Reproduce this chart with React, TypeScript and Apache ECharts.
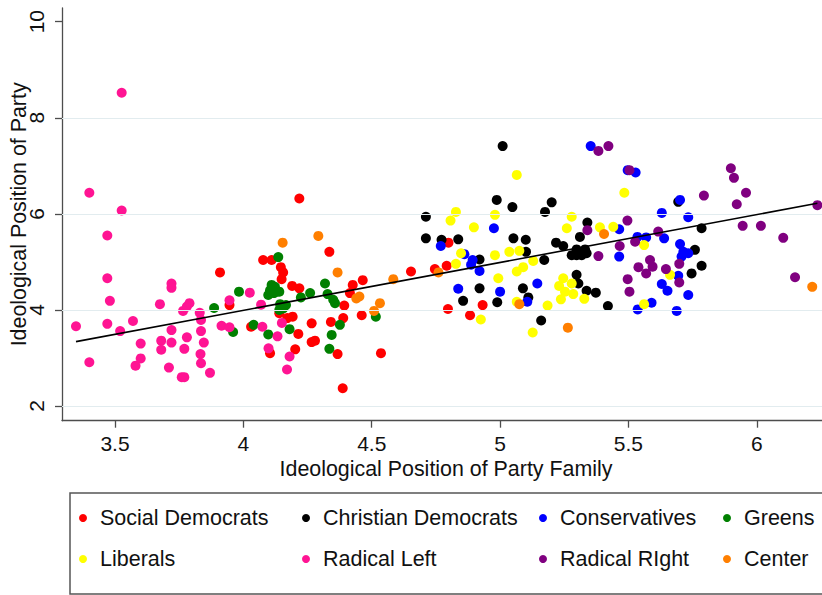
import React, { useEffect, useRef } from "react";
import * as echarts from "echarts";

// ---- Data ----
const SOCIAL_DEMOCRATS: number[][] = [
  [3.909, 4.78], [3.946, 4.10], [4.03, 3.65], [4.077, 5.04], [4.11, 5.04], [4.146, 4.89],
  [4.155, 4.78], [4.149, 4.64], [4.19, 4.50], [4.218, 4.45], [4.104, 3.10], [4.202, 3.18],
  [4.214, 3.50], [4.218, 6.32], [4.335, 5.21], [4.426, 4.52], [4.465, 4.62], [4.415, 4.35],
  [4.393, 4.09], [4.461, 3.89], [4.389, 3.83], [4.341, 3.75], [4.266, 3.72], [4.192, 3.86],
  [4.171, 3.83], [4.279, 3.36], [4.266, 3.33], [4.367, 3.08], [4.536, 3.10], [4.387, 2.37],
  [4.14, 3.93], [4.653, 4.80], [4.746, 4.85], [4.792, 4.92], [4.797, 4.02], [4.799, 5.40],
  [4.883, 3.89], [4.932, 4.10],
];
const CHRISTIAN_DEMOCRATS: number[][] = [
  [5.01, 7.41], [4.987, 6.29], [5.048, 6.14], [5.175, 6.04], [5.201, 6.24], [4.711, 5.94],
  [4.711, 5.49], [4.772, 5.46], [4.837, 5.47], [5.052, 5.49], [5.10, 5.46], [5.101, 5.21],
  [4.92, 5.05], [5.172, 5.04], [5.218, 5.40], [5.246, 5.33], [5.311, 5.52], [5.34, 5.82],
  [5.279, 5.14], [5.298, 5.14], [5.318, 5.14], [5.337, 5.18], [5.298, 5.26], [5.331, 5.26],
  [5.298, 4.73], [5.305, 4.55], [5.337, 4.40], [5.373, 4.36], [5.42, 4.08], [4.92, 4.45],
  [4.856, 4.19], [4.989, 4.16], [5.089, 4.45], [5.11, 4.26], [5.16, 3.78], [5.694, 6.25],
  [5.785, 5.70], [5.759, 5.25], [5.785, 4.92], [5.746, 4.76],
];
const CONSERVATIVES: number[][] = [
  [5.353, 7.41], [4.976, 5.70], [4.769, 5.33], [4.861, 5.16], [4.893, 5.04], [4.887, 4.94],
  [4.92, 4.81], [4.837, 4.44], [5.0, 4.38], [5.145, 4.55], [5.106, 4.17], [5.464, 5.68],
  [5.464, 5.11], [5.497, 6.91], [5.528, 6.86], [5.701, 6.29], [5.63, 6.02], [5.733, 5.93],
  [5.535, 5.52], [5.569, 5.51], [5.639, 5.49], [5.701, 5.37], [5.714, 5.21], [5.733, 5.18],
  [5.707, 5.11], [5.694, 4.71], [5.63, 4.54], [5.652, 4.40], [5.733, 4.31], [5.59, 4.15],
  [5.536, 4.01], [5.688, 3.98],
];
const GREENS: number[][] = [
  [3.886, 4.04], [3.983, 4.38], [3.96, 3.54], [4.04, 3.69], [4.097, 3.49], [4.136, 5.10],
  [4.11, 4.52], [4.123, 4.48], [4.104, 4.41], [4.13, 4.38], [4.097, 4.31], [4.119, 4.35],
  [4.14, 4.38], [4.14, 4.00], [4.155, 4.03], [4.18, 3.60], [4.143, 4.12], [4.166, 4.10],
  [4.224, 4.26], [4.26, 4.35], [4.318, 4.55], [4.328, 4.33], [4.35, 4.21], [4.357, 4.14],
  [4.376, 3.69], [4.344, 3.48], [4.335, 3.19], [4.516, 3.86],
];
const LIBERALS: number[][] = [
  [5.065, 6.81], [4.828, 6.04], [4.807, 5.86], [4.898, 5.72], [4.98, 5.98], [5.279, 5.94],
  [5.26, 5.70], [5.389, 5.72], [5.441, 5.73], [4.848, 5.18], [4.828, 4.96], [4.98, 5.14],
  [5.036, 5.21], [5.075, 5.23], [5.129, 5.02], [5.09, 4.89], [5.065, 4.80], [4.993, 4.66],
  [5.246, 4.66], [5.23, 4.50], [5.279, 4.55], [5.253, 4.38], [5.285, 4.33], [5.237, 4.22],
  [5.328, 4.23], [5.065, 4.17], [5.185, 4.09], [4.925, 3.80], [5.127, 3.53], [5.484, 6.44],
  [5.561, 5.35], [5.662, 4.73], [5.561, 4.12],
];
const RADICAL_LEFT: number[][] = [
  [3.526, 8.52], [3.40, 6.44], [3.526, 6.07], [3.47, 5.55], [3.47, 4.66], [3.48, 4.19],
  [3.47, 3.71], [3.348, 3.66], [3.40, 2.91], [3.52, 3.56], [3.57, 3.77], [3.60, 3.30],
  [3.60, 2.99], [3.58, 2.84], [3.675, 4.12], [3.72, 4.55], [3.72, 4.46], [3.68, 3.36],
  [3.68, 3.17], [3.72, 3.32], [3.72, 3.58], [3.71, 2.80], [3.78, 3.43], [3.77, 3.19],
  [3.765, 3.98], [3.78, 4.07], [3.79, 4.14], [3.76, 2.60], [3.77, 2.60], [3.83, 3.94],
  [3.835, 3.79], [3.835, 3.56], [3.846, 3.32], [3.833, 3.08], [3.835, 2.89], [3.87, 2.69],
  [3.915, 3.67], [3.946, 4.20], [3.946, 3.64], [4.025, 4.36], [4.069, 4.11], [4.074, 3.65],
  [4.098, 3.20], [4.133, 3.45], [4.15, 3.73], [4.18, 3.03], [4.17, 2.76],
];
const RADICAL_RIGHT: number[][] = [
  [5.383, 7.31], [5.422, 7.41], [5.34, 5.66], [5.383, 5.12], [5.466, 5.33], [5.504, 6.91],
  [5.899, 6.95], [5.911, 6.75], [5.794, 6.38], [5.958, 6.44], [5.922, 6.20], [6.236, 6.18],
  [5.945, 5.75], [6.016, 5.75], [6.103, 5.50], [6.149, 4.68], [5.496, 5.86], [5.616, 5.63],
  [5.526, 5.42], [5.584, 5.04], [5.594, 4.90], [5.569, 4.76], [5.539, 4.89], [5.646, 4.85],
  [5.698, 4.96], [5.698, 4.57], [5.497, 4.64], [5.504, 4.38],
];
const CENTER: number[][] = [
  [4.153, 5.40], [4.292, 5.54], [4.367, 4.78], [4.584, 4.64], [4.44, 4.24], [4.452, 4.28],
  [4.532, 4.14], [4.509, 3.98], [4.76, 4.78], [5.075, 4.12], [5.264, 3.63], [5.405, 5.58],
  [6.216, 4.48],
];

const SERIES_NAMES = [
  "Social Democrats", "Christian Democrats", "Conservatives", "Greens",
  "Liberals", "Radical Left", "Radical RIght", "Center",
];
const SERIES_DATA = [
  SOCIAL_DEMOCRATS, CHRISTIAN_DEMOCRATS, CONSERVATIVES, GREENS,
  LIBERALS, RADICAL_LEFT, RADICAL_RIGHT, CENTER,
];
const SERIES_COLORS = [
  "#ff0000", "#000000", "#0000ff", "#008000",
  "#ffff00", "#ff1493", "#800080", "#ff7f00",
];

// fitted line (endpoints)
const FIT_X = [3.348, 6.236];
const FIT_Y = [3.34, 6.22];

const X_TICKS = [3.5, 4, 4.5, 5, 5.5, 6];
const Y_TICKS = [2, 4, 6, 8, 10];
const GRID_Y = [2, 4, 6, 8];

const X_TITLE = "Ideological Position of Party Family";
const Y_TITLE = "Ideological Position of Party";

// ---- Layout ----
const W = 822;
const H = 595;
const FONT = "'Liberation Sans', Arial, Helvetica, sans-serif";
const LEGEND_COL_DOT = [83, 306, 543, 727];
const LEGEND_ROW_CENTER = [518, 559];

export default function App() {
  const ref = useRef<HTMLDivElement>(null);

  useEffect(() => {
    document.body.style.margin = "0";
    if (!ref.current) return;
    const chart = echarts.init(ref.current, undefined, { renderer: "svg" });

    const scatterSeries = SERIES_NAMES.map((name, i) => ({
      name,
      type: "scatter",
      data: SERIES_DATA[i],
      symbol: "circle",
      symbolSize: 10,
      itemStyle: { color: SERIES_COLORS[i], opacity: 1 },
      z: 3,
      silent: true,
    }));

    const legends = SERIES_NAMES.map((name, i) => ({
      data: [{ name, icon: "circle" }],
      left: LEGEND_COL_DOT[i % 4] - 4,
      top: LEGEND_ROW_CENTER[Math.floor(i / 4)] - 12,
      orient: "horizontal",
      itemWidth: 24,
      itemHeight: 8,
      padding: 0,
      selectedMode: false,
      textStyle: {
        fontFamily: FONT,
        fontSize: 21.5,
        color: "#111",
        lineHeight: 24,
      },
    }));

    chart.setOption({
      animation: false,
      backgroundColor: "#ffffff",
      grid: {
        left: 62,
        right: 0,
        top: 8,
        bottom: H - 420.7,
        containLabel: false,
        outerBoundsMode: "none",
      },
      xAxis: {
        type: "value",
        min: 3.2935,
        max: 6.254,
        name: X_TITLE,
        nameLocation: "middle",
        nameGap: 38,
        nameMoveOverlap: false,
        nameTextStyle: { fontFamily: FONT, fontSize: 21.4, color: "#111", padding: [0, 0, 0, 8] },
        axisLine: { show: true, onZero: false, lineStyle: { color: "#4d4d4d", width: 1.3 } },
        axisTick: { show: true, length: 7, customValues: X_TICKS, lineStyle: { color: "#4d4d4d", width: 1.3 } },
        axisLabel: {
          customValues: X_TICKS,
          margin: 12,
          fontFamily: FONT,
          fontSize: 21,
          color: "#111",
          showMinLabel: true,
          showMaxLabel: true,
        },
        splitLine: { show: false },
      },
      yAxis: {
        type: "value",
        min: 1.694,
        max: 10.285,
        name: Y_TITLE,
        nameLocation: "middle",
        nameGap: 33,
        nameMoveOverlap: false,
        nameTextStyle: { fontFamily: FONT, fontSize: 21.4, color: "#111" },
        axisLine: { show: true, onZero: false, lineStyle: { color: "#4d4d4d", width: 1.3 } },
        axisTick: { show: true, length: 7, customValues: Y_TICKS, lineStyle: { color: "#4d4d4d", width: 1.3 } },
        axisLabel: {
          customValues: Y_TICKS,
          rotate: 90,
          margin: 15,
          fontFamily: FONT,
          fontSize: 21,
          color: "#111",
          showMinLabel: true,
          showMaxLabel: true,
        },
        splitLine: { show: false },
      },
      legend: legends,
      graphic: [
        {
          type: "rect",
          shape: { x: 70, y: 493, width: 800, height: 101 },
          style: { fill: "none", stroke: "#555555", lineWidth: 1.5 },
          silent: true,
          z: 0,
        },
      ],
      series: [
        {
          name: "gridlines",
          type: "line",
          data: [],
          silent: true,
          z: 1,
          markLine: {
            silent: true,
            symbol: "none",
            label: { show: false },
            lineStyle: { color: "#e2ecef", width: 1.2, type: "solid" },
            data: GRID_Y.map((v) => ({ yAxis: v })),
          },
        },
        ...scatterSeries,
        {
          name: "fit",
          type: "line",
          data: FIT_X.map((x, i) => [x, FIT_Y[i]]),
          symbol: "none",
          silent: true,
          lineStyle: { color: "#000000", width: 1.6 },
          z: 5,
        },
      ],
    });

    return () => {
      chart.dispose();
    };
  }, []);

  return (
    <div
      ref={ref}
      style={{ position: "fixed", left: 0, top: 0, width: W, height: H, background: "#fff" }}
    />
  );
}
